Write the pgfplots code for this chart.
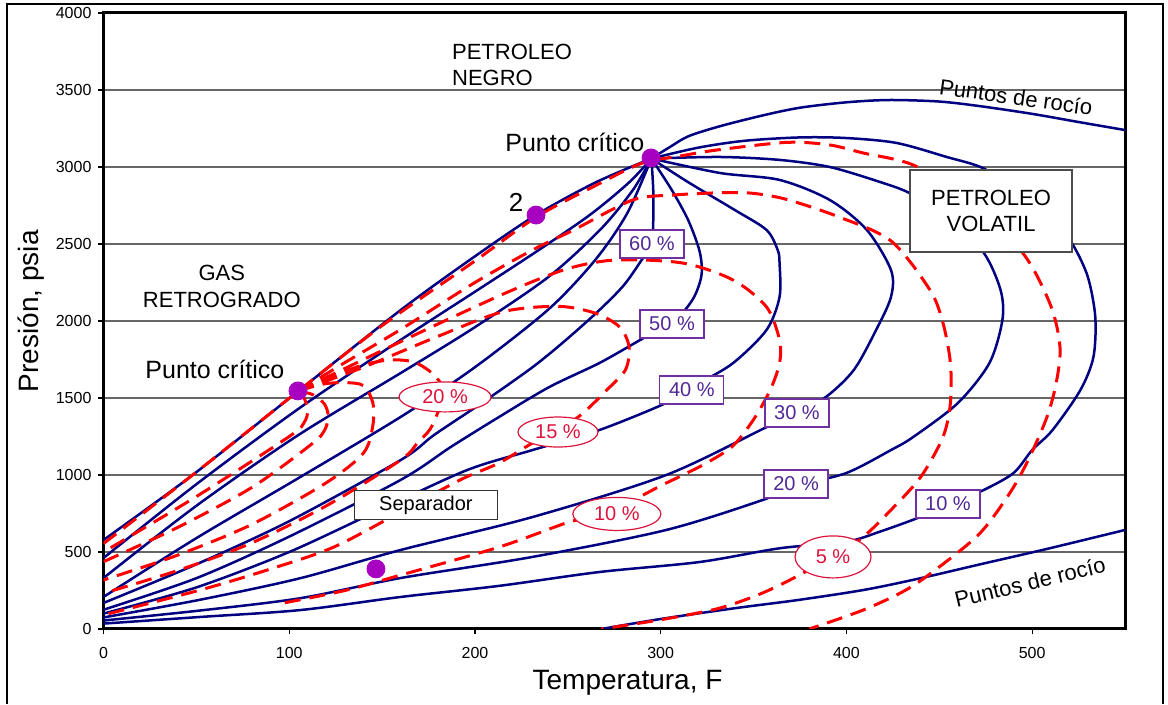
\documentclass[border=0pt]{standalone}
\usepackage{fontspec}
\setmainfont{Liberation Sans}
\usepackage{pgfplots}
\pgfplotsset{compat=1.18}
\usetikzlibrary{shapes.geometric}
\definecolor{navyb}{RGB}{0,0,128}
\definecolor{redd}{RGB}{255,0,0}
\definecolor{dotc}{RGB}{168,0,192}
\definecolor{purpb}{RGB}{112,48,160}
\definecolor{purpt}{RGB}{80,40,150}
\definecolor{crim}{RGB}{220,20,60}
\begin{document}
\begin{tikzpicture}
\begin{axis}[name=ax, scale only axis, width=510.75pt, height=308pt,
  xmin=0, xmax=550, ymin=0, ymax=4000,
  xtick={0,100,...,500}, ytick={0,500,...,4000},
  ymajorgrids, grid style={black!60, line width=0.55pt},
  axis line style={line width=1.5pt},
  tick align=outside, major tick length=2.5pt,
  xtick pos=bottom, ytick pos=left,
  tick style={black, line width=0.6pt},
  ticklabel style={font=\fontsize{8}{9.6}\selectfont},
  xticklabel style={yshift=-3pt},
  /pgf/number format/assume math mode=true,
  /pgf/number format/set thousands separator={},
  xlabel={Temperatura, F}, ylabel={Presión, psia},
  label style={font=\fontsize{14}{16}\selectfont},
  xlabel style={at={(axis description cs:0.513,-0.0877)}, anchor=center},
  ylabel style={at={(axis description cs:-0.0705,0.516)}, anchor=center},
  clip mode=individual,
  bl/.style={navyb, line width=1.25pt, smooth, tension=0.5, no marks},
  rd/.style={redd, line width=1.5pt, dash pattern=on 8pt off 4.5pt, smooth, tension=0.5, no marks},
]
% ---- blue (volatile oil) ----
\addplot[bl] coordinates {(295,3055) (305,3130) (315,3200) (332,3265) (355,3335) (375,3385) (400,3420) (423,3435) (450,3425) (472,3395) (500,3345) (525,3292) (550,3240)};
\addplot[bl] coordinates {(268,0) (300,65) (340,135) (375,190) (410,255) (440,330) (472,420) (508,520) (550,643)};
\addplot[bl] coordinates {(295,3055) (320,3125) (345,3170) (375,3192) (400,3188) (427,3156) (454,3065) (474,2990) (495,2820) (512,2650) (522,2494) (530,2286) (534,2026) (533,1766) (526,1552) (511,1292) (500,1162) (490,1013) (474,903) (456,810) (438,719) (418,632) (400,567) (364,524) (321,435) (267,370) (213,280) (160,208) (106,123) (52,78) (0,35)};
\addplot[bl] coordinates {(295,3055) (332,3065) (364,3046) (391,3000) (418,2903) (434,2831) (455,2680) (474,2442) (483,2201) (484,2007) (477,1727) (460,1467) (436,1247) (424,1162) (400,1013) (373,930) (355,838) (303,643) (231,468) (160,331) (106,200) (52,120) (0,55)};
\addplot[bl] coordinates {(295,3055) (332,2961) (364,2916) (391,2786) (411,2591) (424,2331) (424,2156) (416,1942) (404,1682) (389,1507) (373,1403) (356,1305) (303,1000) (231,727) (160,513) (106,330) (52,190) (0,75)};
\addplot[bl] coordinates {(295,3055) (315,2900) (340,2720) (357,2591) (363,2461) (364,2376) (364,2156) (357,1942) (339,1727) (320,1590) (303,1468) (267,1292) (231,1162) (196,1033) (150,780) (100,500) (50,270) (0,100)};
\addplot[bl] coordinates {(295,3055) (306,2850) (315,2650) (321,2450) (322,2300) (318,2156) (310,2030) (300,1950) (289,1877) (267,1727) (240,1571) (213,1377) (187,1182) (160,968) (100,600) (50,330) (0,125)};
\addplot[bl] coordinates {(295,3055) (296,2850) (296,2650) (295,2500) (289,2383) (280,2230) (267,2071) (249,1877) (231,1700) (204,1470) (178,1260) (160,1097) (100,700) (50,420) (0,169)};
\addplot[bl] coordinates {(295,3055) (282,2700) (265,2400) (240,2080) (200,1700) (160,1377) (105,980) (50,590) (0,208)};
\addplot[bl] coordinates {(295,3055) (285,2850) (268,2600) (240,2290) (200,1960) (160,1662) (105,1260) (50,800) (0,331)};
\addplot[bl] coordinates {(295,3055) (283,2900) (262,2690) (233,2450) (200,2190) (160,1877) (105,1430) (50,940) (0,461)};
\addplot[bl] coordinates {(0,578) (48,1000) (105,1546) (160,2071) (200,2420) (233,2689) (265,2900) (295,3055)};
% ---- red (retrograde gas) ----
\addplot[rd] coordinates {(0,555) (48,1000) (105,1546) (150,1970) (200,2390) (233,2675) (265,2880) (290,3025) (310,3070) (330,3110) (368,3160) (391,3143) (409,3091) (436,3013) (465,2800) (495,2441) (510,2100) (515,1830) (513,1600) (508,1377) (498,1100) (488,883) (472,623) (450,403) (432,253) (409,123) (380,0)};
\addplot[rd] coordinates {(105,1546) (130,1730) (160,1945) (200,2250) (231,2461) (253,2590) (285,2786) (307,2818) (330,2832) (348,2831) (367,2792) (395,2680) (424,2520) (445,2201) (452,1987) (456,1727) (456,1467) (452,1247) (440,987) (424,773) (409,597) (393,468) (380,385) (365,290) (350,210) (330,130) (300,60) (268,0)};
\addplot[rd] coordinates {(105,1546) (140,1750) (180,1980) (220,2200) (250,2340) (276,2396) (312,2376) (339,2266) (357,2091) (364,1877) (364,1727) (359,1552) (350,1360) (339,1190) (325,1080) (312,1000) (300,930) (289,860) (276,780) (262,725) (249,688) (213,532) (160,350) (130,250) (97,169)};
\addplot[rd] coordinates {(105,1546) (140,1700) (180,1900) (215,2060) (245,2095) (265,2050) (278,1960) (283,1831) (281,1682) (271,1552) (258,1400) (245,1290) (231,1208) (213,1078) (192,968) (160,760) (124,532) (90,390) (52,253) (0,91)};
\addplot[rd] coordinates {(105,1546) (125,1650) (140,1715) (154,1747) (167,1734) (177,1660) (183,1560) (181,1440) (176,1300) (169,1208) (160,1097) (120,800) (80,560) (40,380) (0,232)};
\addplot[rd] coordinates {(105,1546) (118,1590) (130,1600) (140,1580) (145,1470) (145,1320) (140,1143) (120,950) (80,680) (40,480) (0,318)};
\addplot[rd] coordinates {(105,1546) (113,1520) (119,1460) (121,1380) (119,1290) (112,1200) (80,920) (40,660) (0,437)};
\addplot[rd] coordinates {(105,1546) (108,1500) (110,1420) (108,1340) (100,1250) (50,860) (0,500)};
% ---- labels ----
\node[font=\fontsize{11}{13}\selectfont, align=left, anchor=west] at (axis cs:183.9,3662) {PETROLEO\\NEGRO};
\node[font=\fontsize{11}{13.5}\selectfont, align=center] at (axis cs:63.7,2227) {GAS\\RETROGRADO};
\node[font=\fontsize{12.5}{14}\selectfont] at (axis cs:253.8,3160) {Punto crítico};
\node[font=\fontsize{12.5}{14}\selectfont] at (axis cs:60,1686) {Punto crítico};
\node[font=\fontsize{13}{14}\selectfont] at (axis cs:222.1,2773) {2};
\node[font=\fontsize{10}{12}\selectfont, draw=black!80, fill=white, line width=0.6pt, minimum width=71.5pt, minimum height=14.5pt, inner sep=0pt] at (axis cs:173.6,805) {Separador};
\node[font=\fontsize{11}{13}\selectfont, align=center, draw=black!70, fill=white, line width=0.6pt, minimum width=81pt, minimum height=41pt, inner sep=0pt] at (axis cs:477.9,2714) {PETROLEO\\VOLATIL};
\node[font=\fontsize{11}{13}\selectfont, rotate=-8] at (axis cs:491.3,3455) {Puntos de rocío};
\node[font=\fontsize{11}{13}\selectfont, rotate=13.5] at (axis cs:498.8,305) {Puntos de rocío};
% purple boxes
\tikzset{pbox/.style={font=\fontsize{10}{12}\selectfont, text=purpt, draw=purpb, fill=white, line width=0.6pt, minimum width=32pt, minimum height=14pt, inner sep=0pt}}
\node[pbox] at (axis cs:295.3,2500) {60 \%};
\node[pbox] at (axis cs:306.1,1981) {50 \%};
\node[pbox] at (axis cs:316.8,1552) {40 \%};
\node[pbox] at (axis cs:373.4,1403) {30 \%};
\node[pbox] at (axis cs:372.9,942) {20 \%};
\node[pbox] at (axis cs:454.7,812) {10 \%};
% red ellipses
\tikzset{rell/.style={ellipse, font=\fontsize{10}{12}\selectfont, text=crim, draw=crim, fill=white, line width=0.6pt, inner sep=0pt}}
\node[rell, minimum width=46pt, minimum height=15pt] at (axis cs:183.9,1507) {20 \%};
\node[rell, minimum width=40pt, minimum height=15pt] at (axis cs:244.7,1279) {15 \%};
\node[rell, minimum width=44pt, minimum height=16.5pt] at (axis cs:276.4,747) {10 \%};
\node[rell, minimum width=38pt, minimum height=21pt] at (axis cs:392.8,468) {5 \%};
% dots
\addplot[only marks, mark=*, mark size=4.5pt, color=dotc] coordinates {(104.7,1546) (294.8,3059) (232.9,2688) (146.7,390)};
\end{axis}
\draw[line width=1pt] ([xshift=-48.25pt,yshift=-37.5pt]ax.south west) -- ([xshift=-48.25pt,yshift=4.5pt]ax.north west) -- ([xshift=19pt,yshift=4.5pt]ax.north east) -- ([xshift=19pt,yshift=-37.5pt]ax.south east);
\path ([xshift=-51.75pt,yshift=-37.5pt]ax.south west) rectangle ([xshift=21.5pt,yshift=6.5pt]ax.north east);
\end{tikzpicture}
\end{document}
